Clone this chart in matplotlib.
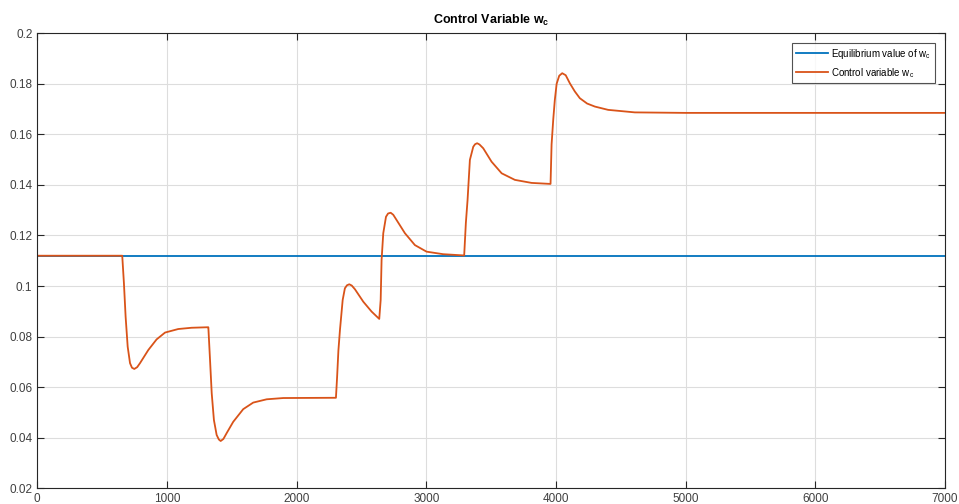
import matplotlib
matplotlib.use("Agg")
import matplotlib.pyplot as plt

# ---- data ----
t_eq = [0, 7000]
w_eq = [0.112, 0.112]

t_ctrl = [0, 655, 668, 681, 697, 715, 730, 748, 770, 792, 856, 920, 985, 1087, 1190, 1314,
          1319, 1332, 1345, 1362, 1383, 1400, 1414, 1435, 1460, 1511, 1588, 1665, 1769, 1897, 2303,
          2312, 2322, 2334, 2355, 2372, 2388, 2406, 2425, 2450, 2514, 2578, 2637,
          2648, 2655, 2668, 2689, 2705, 2725, 2745, 2771, 2835, 2912, 3002, 3130, 3292,
          3305, 3318, 3336, 3362, 3376, 3392, 3410, 3439, 3503, 3581, 3683, 3812, 3958,
          3966, 3979, 3991, 4005, 4025, 4048, 4075, 4107, 4145, 4184, 4240, 4300, 4402, 4608, 5000, 7000]
w_ctrl = [0.112, 0.112, 0.1011, 0.0879, 0.0760, 0.0695, 0.0677, 0.0672, 0.0679, 0.0695, 0.0747, 0.0789, 0.0816, 0.0830, 0.0835, 0.0837,
          0.0837, 0.0708, 0.0576, 0.0470, 0.0411, 0.0393, 0.0387, 0.0395, 0.0418, 0.0463, 0.0513, 0.0539, 0.0552, 0.0557, 0.0558,
          0.0640, 0.0745, 0.0826, 0.0945, 0.0991, 0.1003, 0.1007, 0.1002, 0.0987, 0.0938, 0.0899, 0.0870,
          0.0945, 0.1103, 0.1209, 0.1274, 0.1287, 0.1290, 0.1282, 0.1261, 0.1209, 0.1162, 0.1136, 0.1126, 0.1121,
          0.1250, 0.1340, 0.1499, 0.1551, 0.1561, 0.1565, 0.1560, 0.1545, 0.1492, 0.1446, 0.1420, 0.1408, 0.1404,
          0.1560, 0.1660, 0.1736, 0.1800, 0.1832, 0.1842, 0.1834, 0.1802, 0.1770, 0.1743, 0.1722, 0.1710, 0.1697, 0.1687, 0.1685, 0.1685]

x_ticks = [0, 1000, 2000, 3000, 4000, 5000, 6000, 7000]
y_ticks = [0.02, 0.04, 0.06, 0.08, 0.1, 0.12, 0.14, 0.16, 0.18, 0.2]
y_ticklabels = ["0.02", "0.04", "0.06", "0.08", "0.1", "0.12", "0.14", "0.16", "0.18", "0.2"]

plt.rcParams['font.family'] = ['Liberation Sans', 'DejaVu Sans']
plt.rcParams['mathtext.fontset'] = 'custom'
plt.rcParams['mathtext.rm'] = 'Liberation Sans'
plt.rcParams['mathtext.it'] = 'Liberation Sans:italic'
plt.rcParams['mathtext.bf'] = 'Liberation Sans:bold'

fig = plt.figure(figsize=(9.59, 5.04), dpi=100)
ax = fig.add_axes([0.0389, 0.0312, 0.9465, 0.9028])

ax.plot(t_eq, w_eq, color='#0072BD', lw=1.3, label=r'Equilibrium value of w$_\mathrm{c}$')
ax.plot(t_ctrl, w_ctrl, color='#D95319', lw=1.3, label=r'Control variable w$_\mathrm{c}$')

ax.set_xlim(0, 7000)
ax.set_ylim(0.02, 0.2)
ax.set_xticks(x_ticks)
ax.set_yticks(y_ticks)
ax.set_yticklabels(y_ticklabels)
ax.grid(True, color='#dddddd', lw=0.8)
ax.set_axisbelow(True)
ax.tick_params(direction='in', top=True, right=True, length=5, width=0.8,
               colors='#262626', labelsize=8.5, labelcolor='#404040')
for s in ax.spines.values():
    s.set_color('#262626')
    s.set_linewidth(0.8)

ax.set_title(r'Control Variable w$_\mathbf{c}$', fontsize=9, fontweight='bold', color='#000000', pad=7)

leg = ax.legend(loc='upper right', fontsize=7, frameon=True, fancybox=False,
                edgecolor='#262626', handlelength=3.3, borderaxespad=1.0,
                labelspacing=0.5, handletextpad=0.3, borderpad=0.4)
leg.get_frame().set_linewidth(0.8)

fig.savefig('out.png', dpi=100)
